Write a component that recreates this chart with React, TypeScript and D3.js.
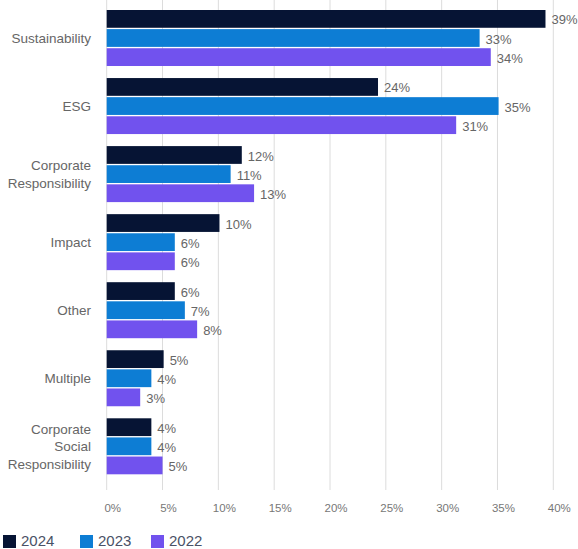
import React from "react";
import * as d3 from "d3";

const categories: string[][] = [
  ["Sustainability"],
  ["ESG"],
  ["Corporate", "Responsibility"],
  ["Impact"],
  ["Other"],
  ["Multiple"],
  ["Corporate", "Social", "Responsibility"],
];
const seriesNames = ["2024", "2023", "2022"];
const values2024 = [39.3, 24.3, 12.1, 10.1, 6.1, 5.1, 4.0];
const values2023 = [33.4, 35.1, 11.1, 6.1, 7.0, 4.0, 4.0];
const values2022 = [34.4, 31.3, 13.2, 6.1, 8.1, 3.0, 5.0];
const labels2024 = ["39%", "24%", "12%", "10%", "6%", "5%", "4%"];
const labels2023 = ["33%", "35%", "11%", "6%", "7%", "4%", "4%"];
const labels2022 = ["34%", "31%", "13%", "6%", "8%", "3%", "5%"];
const ticks = [0, 5, 10, 15, 20, 25, 30, 35, 40];
const colors = ["#061434", "#0d7dd4", "#7152ee"];

export default function App() {
  const W = 578;
  const H = 549;
  const x = d3.scaleLinear().domain([0, 40]).range([106.7, 553.3]);
  const idx = categories.map((_, i) => String(i));
  const y = d3.scaleBand().domain(idx).range([10, 474.3]).paddingInner(0.177).paddingOuter(0);
  const sub = d3.scaleBand().domain(seriesNames).range([0, y.bandwidth()]).paddingInner(0.07);
  const series = [values2024, values2023, values2022];
  const labels = [labels2024, labels2023, labels2022];
  const font = "'Liberation Sans', Arial, Helvetica, sans-serif";
  const legendX = [3, 80, 151];

  return (
    <svg width={W} height={H} style={{ position: "absolute", left: 0, top: 0 }} fontFamily={font}>
      <rect width={W} height={H} fill="#fff" />
      {ticks.map((t) => (
        <g key={t}>
          <line x1={x(t)} x2={x(t)} y1={0} y2={490} stroke="#dcdcdc" strokeWidth={1} />
          <text x={x(t) + 6} y={512} textAnchor="middle" fontSize={11.5} fill="#777">
            {t}%
          </text>
        </g>
      ))}
      {categories.map((lines, i) => {
        const cy = (y(String(i)) as number) + y.bandwidth() / 2;
        const lh = 17.5;
        const startY = cy - ((lines.length - 1) * lh) / 2;
        return (
          <g key={i}>
            <text textAnchor="end" fontSize={13.5} fill="#666">
              {lines.map((l, k) => (
                <tspan key={k} x={91} y={startY + k * lh} dy="0.35em">
                  {l}
                </tspan>
              ))}
            </text>
            {series.map((vals, s) => {
              const by = (y(String(i)) as number) + (sub(seriesNames[s]) as number);
              return (
                <g key={s}>
                  <rect
                    x={x(0)}
                    y={by}
                    width={x(vals[i]) - x(0)}
                    height={sub.bandwidth()}
                    fill={colors[s]}
                  />
                  <text
                    x={x(vals[i]) + 6}
                    y={by + sub.bandwidth() / 2 + 1}
                    dy="0.35em"
                    fontSize={13}
                    fill="#666"
                  >
                    {labels[s][i]}
                  </text>
                </g>
              );
            })}
          </g>
        );
      })}
      {seriesNames.map((n, s) => (
        <g key={n}>
          <rect x={legendX[s]} y={535} width={13} height={13} fill={colors[s]} />
          <text x={legendX[s] + 18} y={541} dy="0.35em" fontSize={15} fill="#4a5166">
            {n}
          </text>
        </g>
      ))}
    </svg>
  );
}
